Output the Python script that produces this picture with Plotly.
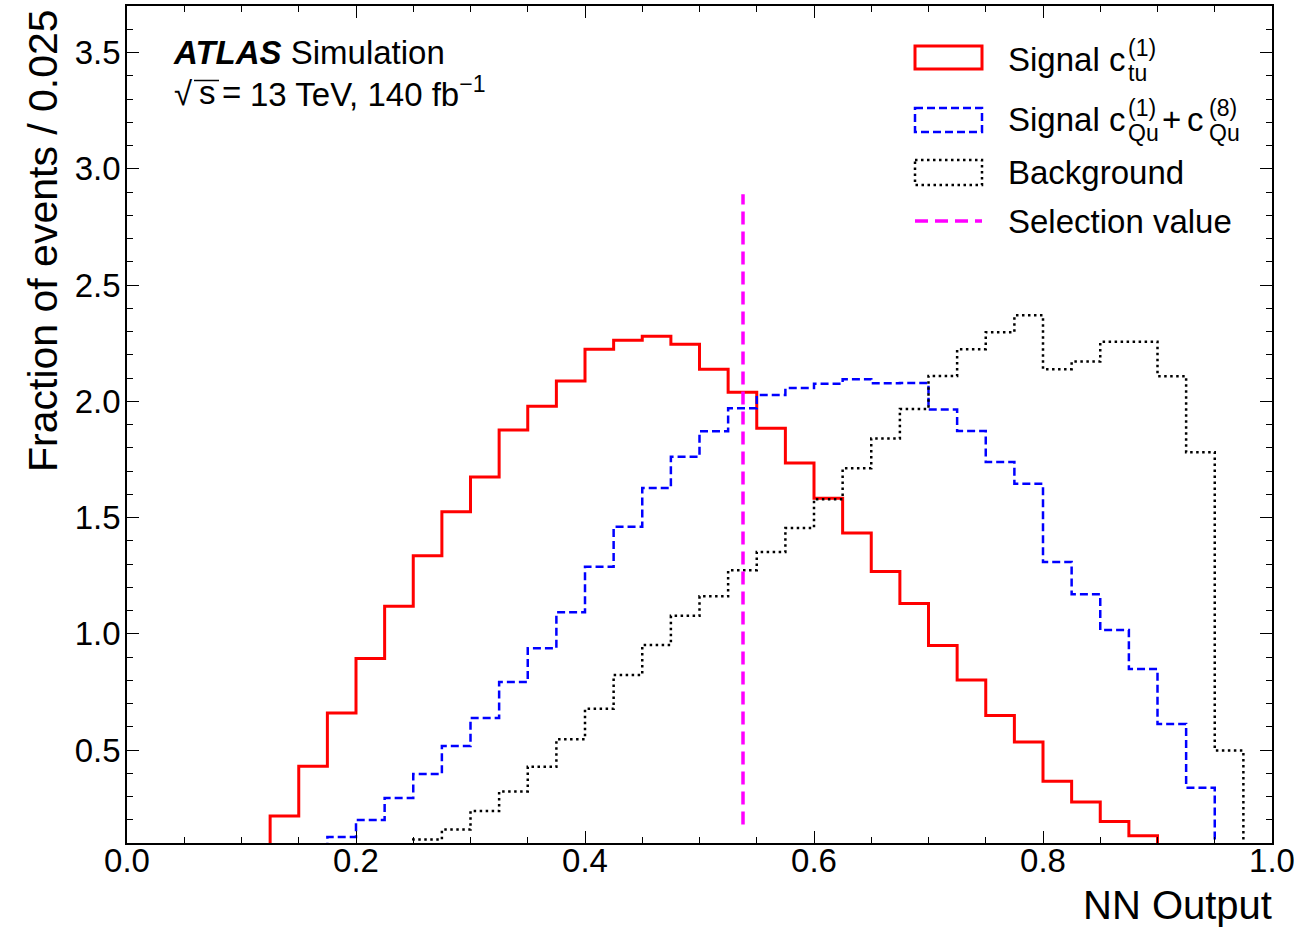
import numpy as np
import plotly.graph_objects as go

# ---------------- data ----------------
bin_width = 0.025
n_bins = 40
bin_edges = [round(i * bin_width, 3) for i in range(n_bins + 1)]

# Signal c_tu^(1)  (40 bins, 0..1)
signal_ctu = [0, 0, 0, 0, 0,
              0.216, 0.430, 0.659, 0.894, 1.118,
              1.336, 1.525, 1.674, 1.876, 1.979,
              2.087, 2.224, 2.262, 2.280, 2.245,
              2.138, 2.039, 1.884, 1.734, 1.583,
              1.433, 1.268, 1.130, 0.949, 0.801,
              0.648, 0.534, 0.366, 0.276, 0.193,
              0.131, 0, 0, 0, 0]

# Signal c_Qu^(1) + c_Qu^(8)
signal_cqu = [0, 0, 0, 0, 0,
              0, 0, 0.126, 0.199, 0.294,
              0.397, 0.517, 0.638, 0.792, 0.938,
              1.092, 1.288, 1.460, 1.627, 1.761,
              1.871, 1.970, 2.027, 2.057, 2.075,
              2.095, 2.077, 2.079, 1.965, 1.872,
              1.739, 1.645, 1.309, 1.170, 1.016,
              0.848, 0.612, 0.338, 0, 0]

# Background
background = [0, 0, 0, 0, 0,
              0, 0, 0, 0, 0,
              0.115, 0.158, 0.238, 0.322, 0.428,
              0.546, 0.677, 0.823, 0.952, 1.077,
              1.161, 1.273, 1.352, 1.455, 1.579,
              1.712, 1.840, 1.967, 2.109, 2.224,
              2.297, 2.370, 2.138, 2.171, 2.256,
              2.256, 2.108, 1.781, 0.498, 0]

selection_value = 0.538
selection_y = [0.18, 2.89]

x_ticks = [0.0, 0.2, 0.4, 0.6, 0.8, 1.0]
y_ticks = [0.5, 1.0, 1.5, 2.0, 2.5, 3.0, 3.5]

# ---------------- layout helpers ----------------
W, H = 1294, 927
ML, MR, MT, MB = 127, 22, 6, 84
FONT = "Liberation Sans, Arial, sans-serif"


def px(x):
    return (x - ML) / (W - ML - MR)


def py(y):
    return (H - MB - y) / (H - MT - MB)


fig = go.Figure()


def step_trace(vals, color, width, dash):
    return go.Scatter(
        x=bin_edges, y=list(vals) + [vals[-1]], mode="lines",
        line=dict(shape="hv", color=color, width=width, dash=dash),
        showlegend=False, hoverinfo="skip")


fig.add_trace(step_trace(signal_ctu, "#ff0000", 3, "solid"))
fig.add_trace(step_trace(signal_cqu, "#0000ff", 2.5, "8px,4px"))
fig.add_trace(step_trace(background, "#000000", 2.5, "2.5px,3.5px"))
fig.add_trace(go.Scatter(
    x=[selection_value, selection_value], y=selection_y, mode="lines",
    line=dict(color="#ff00ff", width=3.5, dash="13px,7px"),
    showlegend=False, hoverinfo="skip"))

annotations = []


def ann(text, x, y, size, xanchor="left", yanchor="middle", **kw):
    annotations.append(dict(
        text=text, x=px(x), y=py(y), xref="paper", yref="paper",
        xanchor=xanchor, yanchor=yanchor, showarrow=False,
        font=dict(family=FONT, size=size, color="black"),
        borderpad=0, borderwidth=0, **kw))


S = 33
SS = 23


def mid(baseline, size):
    return baseline - 0.35 * size


# ATLAS label
ann("<b><i>ATLAS</i></b> Simulation", 173, mid(64, S), S)
ann("√", 174, mid(105, S), S)
ann("s", 199, mid(104, S), S)
ann("=", 222, mid(104, S), S)
ann("13 TeV, 140 fb<sup>−1</sup>", 250, mid(104, S), S)

# legend texts
b1, b2, b3, b4 = 71, 131, 184, 233
ann("Signal c", 1008, mid(b1, S), S)
ann("(1)", 1128, mid(b1 - 15, SS), SS)
ann("tu", 1128, mid(b1 + 10, SS), SS)

ann("Signal c", 1008, mid(b2, S), S)
ann("(1)", 1128, mid(b2 - 15, SS), SS)
ann("Qu", 1128, mid(b2 + 10, SS), SS)
ann("+", 1171, mid(b2, S), S, xanchor="center")
ann("c", 1187, mid(b2, S), S)
ann("(8)", 1209, mid(b2 - 15, SS), SS)
ann("Qu", 1209, mid(b2 + 10, SS), SS)

ann("Background", 1008, mid(b3, S), S)
ann("Selection value", 1008, mid(b4, S), S)

# axis titles
ann("NN Output", 1272, mid(919, 40), 40, xanchor="right")
ann("Fraction of events / 0.025", 43, 241, 41, xanchor="center",
    textangle=-90)

shapes = [
    dict(type="rect", xref="paper", yref="paper", x0=px(915), x1=px(982),
         y0=py(46), y1=py(69), line=dict(color="#ff0000", width=3),
         fillcolor="rgba(0,0,0,0)"),
    dict(type="rect", xref="paper", yref="paper", x0=px(915), x1=px(982),
         y0=py(108), y1=py(132), line=dict(color="#0000ff", width=2.5, dash="8px,4px"),
         fillcolor="rgba(0,0,0,0)"),
    dict(type="rect", xref="paper", yref="paper", x0=px(915), x1=px(982),
         y0=py(160), y1=py(185), line=dict(color="#000000", width=2.5, dash="2.5px,3.5px"),
         fillcolor="rgba(0,0,0,0)"),
    dict(type="line", xref="paper", yref="paper", x0=px(915), x1=px(982),
         y0=py(221), y1=py(221), line=dict(color="#ff00ff", width=3.5, dash="13px,7px")),
    # overline of the square root
    dict(type="line", xref="paper", yref="paper", x0=px(194), x1=px(219),
         y0=py(80.5), y1=py(80.5), line=dict(color="black", width=1.5)),
]

axis_common = dict(
    showline=True, linecolor="black", linewidth=1.5, mirror="allticks",
    ticks="inside", ticklen=12, tickwidth=1.2, tickcolor="black",
    showgrid=False, zeroline=False, tickformat=".1f",
    ticklabeloverflow="allow", automargin=False,
    tickfont=dict(family=FONT, size=S, color="black"),
)

fig.update_layout(
    width=W, height=H,
    margin=dict(l=ML, r=MR, t=MT, b=MB, pad=0, autoexpand=False),
    paper_bgcolor="white", plot_bgcolor="white",
    showlegend=False,
    font=dict(family=FONT, color="black"),
    xaxis=dict(range=[0, 1], tickvals=x_ticks, ticklabelstandoff=-12,
               minor=dict(dtick=0.05, tick0=0, ticks="inside", ticklen=6,
                          tickwidth=1.2, tickcolor="black", showgrid=False),
               **axis_common),
    yaxis=dict(range=[0.1, 3.7], tickvals=y_ticks, ticklabelstandoff=-2,
               minor=dict(dtick=0.1, tick0=0, ticks="inside", ticklen=6,
                          tickwidth=1.2, tickcolor="black", showgrid=False),
               **axis_common),
    annotations=annotations,
    shapes=shapes,
)

fig.write_html("out.html")
